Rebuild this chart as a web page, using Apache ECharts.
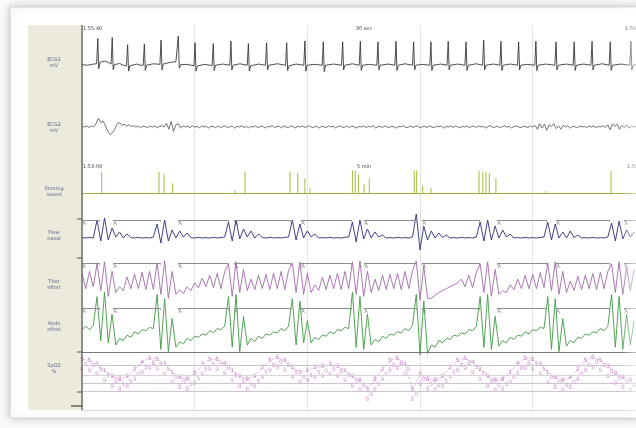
<!DOCTYPE html>
<html><head><meta charset="utf-8">
<script src="https://cdn.jsdelivr.net/npm/echarts@6/dist/echarts.min.js"></script>
<style>html,body{margin:0;padding:0;background:#fafafa;}#c{width:636px;height:428px;}</style>
</head><body><div id="c"></div>
<script>
// ---------- DATA ----------
// Upper panel: 30 sec epoch, time in seconds
const ecg1 = [[0,0.02],[0.3,0.0],[0.6,0.04],[0.78,0.05],[0.84,0.92],[0.89,-0.12],[0.96,0.1],[1.2,0.14],[1.4,0.1],[1.55,0.04],[1.61,0.95],[1.66,-0.15],[1.73,0.02],[2.0,0.06],[2.2,0.0],[2.37,-0.02],[2.43,0.70],[2.48,-0.2],[2.55,-0.02],[2.9,0.04],[3.1,0.0],[3.26,0.0],[3.32,0.73],[3.37,-0.18],[3.44,0.0],[3.8,0.05],[4.15,0.03],[4.21,0.86],[4.26,-0.16],[4.33,0.04],[4.7,0.1],[5.0,0.12],[5.07,0.1],[5.13,1.0],[5.18,-0.1],[5.25,0.02],[5.6,0.03],[5.96,-0.02],[6.02,0.77],[6.07,-0.2],[6.14,-0.03],[6.5,0.03],[6.93,-0.01],[6.99,0.74],[7.04,-0.18],[7.11,0.0],[7.5,0.04],[7.87,0.0],[7.93,0.83],[7.98,-0.16],[8.05,0.0],[8.4,0.05],[8.8,0.0],[8.86,0.74],[8.91,-0.2],[8.98,-0.02],[9.4,0.04],[9.77,0.0],[9.83,0.77],[9.88,-0.16],[9.95,0.0],[10.4,0.05],[10.84,0.0],[10.90,0.77],[10.95,-0.18],[11.02,-0.02],[11.4,0.04],[11.81,0.0],[11.87,0.83],[11.92,-0.2],[11.99,0.0],[12.4,0.03],[12.79,0.0],[12.85,0.80],[12.9,-0.22],[12.97,0.0],[13.4,0.04],[13.82,0.0],[13.88,0.80],[13.93,-0.16],[14.0,0.0],[14.4,0.05],[14.76,0.0],[14.82,0.82],[14.87,-0.18],[14.94,0.0],[15.3,0.03],[15.7,0.0],[15.76,0.80],[15.81,-0.16],[15.88,0.0],[16.3,0.04],[16.66,0.0],[16.72,0.82],[16.77,-0.18],[16.84,0.0],[17.2,0.05],[17.6,0.0],[17.66,0.80],[17.71,-0.16],[17.78,0.0],[18.1,0.03],[18.52,0.0],[18.58,0.80],[18.63,-0.18],[18.7,0.0],[19.1,0.04],[19.44,0.0],[19.50,0.82],[19.55,-0.16],[19.62,0.0],[20.0,0.04],[20.39,0.0],[20.45,0.80],[20.5,-0.18],[20.57,0.0],[21.0,0.05],[21.33,0.0],[21.39,0.86],[21.44,-0.16],[21.51,0.0],[21.9,0.04],[22.25,0.0],[22.31,0.82],[22.36,-0.18],[22.43,0.0],[22.8,0.04],[23.19,0.0],[23.25,0.80],[23.3,-0.16],[23.37,0.0],[23.7,0.03],[24.11,0.0],[24.17,0.82],[24.22,-0.18],[24.29,0.0],[24.7,0.04],[25.18,0.0],[25.24,0.80],[25.29,-0.16],[25.36,0.0],[25.8,0.04],[26.15,0.0],[26.21,0.80],[26.26,-0.18],[26.33,0.0],[26.7,0.04],[27.1,0.0],[27.16,0.82],[27.21,-0.16],[27.28,0.0],[27.7,0.05],[28.07,0.0],[28.13,0.80],[28.18,-0.18],[28.25,0.0],[28.7,0.04],[29.17,0.0],[29.23,0.82],[29.28,-0.16],[29.35,0.0],[29.5,0.02]];
const ecg2Step = 0.125;
const ecg2 = [0.05,0.0,0.1,-0.05,0.08,0.02,0.3,0.8,0.4,0.55,0.1,-0.4,
-0.7,-0.5,-0.2,0.3,0.4,0.15,0.25,0.1,0.2,0.05,0.12,0.0,
0.08,-0.06,0.1,0.02,-0.05,0.08,0.0,0.1,-0.08,0.05,0.12,0.0,
0.35,-0.2,0.5,-0.4,0.2,0.3,-0.1,0.1,0.0,0.08,-0.06,0.1,
-0.02,0.06,-0.08,0.1,0.0,0.05,-0.1,0.08,0.02,-0.04,0.1,-0.06,
0.04,0.1,-0.05,0.02,0.08,-0.1,0.06,0.0,0.1,-0.04,0.05,-0.08,
0.06,0.0,0.1,-0.06,0.04,0.08,-0.1,0.05,0.0,0.12,-0.05,0.03,
0.08,-0.08,0.1,0.0,-0.05,0.1,0.02,-0.08,0.06,0.0,0.1,-0.04,
0.05,0.1,-0.06,0.0,0.08,-0.1,0.06,0.02,-0.05,0.1,0.0,0.06,
-0.08,0.04,0.1,-0.04,0.0,0.08,-0.06,0.1,0.02,-0.1,0.05,0.0,
0.1,-0.05,0.06,0.0,0.12,-0.08,0.02,0.06,-0.06,0.1,0.0,-0.04,
0.08,0.0,-0.1,0.06,0.02,0.1,-0.06,0.0,0.08,-0.04,0.05,0.1,
-0.08,0.02,0.06,-0.05,0.1,0.0,-0.06,0.08,0.02,0.1,-0.1,0.04,
0.0,0.08,-0.04,0.1,0.02,-0.08,0.06,0.0,0.1,-0.06,0.04,0.08,
-0.05,0.1,0.0,0.06,-0.1,0.04,0.12,-0.04,0.0,0.08,-0.06,0.02,
0.1,-0.02,0.06,-0.08,0.04,0.1,0.0,-0.06,0.08,0.02,-0.04,0.1,
0.0,0.15,-0.2,0.3,-0.1,0.25,-0.3,0.2,0.05,0.3,-0.15,0.1,
-0.2,0.15,0.0,0.1,-0.1,0.06,0.02,-0.06,0.08,0.0,0.05,-0.04,
0.08,0.0,0.1,-0.06,0.04,0.02,0.12,-0.05,0.2,-0.25,0.3,0.05,
0.25,-0.2,0.15,-0.05,0.2,-0.1,0.06,0.0,0.05];

// Lower panel: 5 min epoch, time in seconds
const snoreTimes   = [10.5,41.0,43.7,48.3,81.5,86.8,110.8,114.9,118.7,121.4,144.1,145.5,147.3,150.2,153.0,176.9,178.2,181.4,185.8,211.4,213.4,215.1,216.9,220.4,247.1,281.7];
const snoreHeights = [0.85,0.85,0.75,0.4,0.12,0.85,0.85,0.8,0.6,0.2,0.9,0.9,0.75,0.35,0.6,0.9,0.9,0.3,0.2,0.9,0.85,0.85,0.8,0.6,0.1,0.9];

const respStep = 2;
const flow = [0.02,0.0,0.03,0.0,
0.9,-0.15,1.0,-0.1,0.5,0.05,0.3,0.0,0.2,0.02,0.0,0.03,0.0,0.02,0.0,0.05,
0.7,-0.25,0.9,-0.15,0.4,0.0,0.35,0.05,0.25,0.02,0.0,0.03,0.0,0.02,0.0,0.03,0.0,0.02,0.05,
0.8,-0.15,0.9,-0.05,0.45,0.05,0.35,0.0,0.2,0.02,0.0,0.03,0.0,0.02,0.0,0.03,0.05,
0.9,-0.1,0.7,0.0,0.35,0.05,0.2,0.0,0.02,0.0,0.03,0.0,0.02,0.0,0.03,0.05,
0.8,-0.2,0.9,-0.05,0.45,0.0,0.3,0.05,0.15,0.0,0.02,0.0,0.03,0.0,0.02,0.0,0.05,
1.2,-0.6,0.6,-0.1,0.35,0.0,0.25,0.02,0.15,0.0,0.02,0.0,0.03,0.0,0.02,0.0,0.05,
0.8,-0.15,0.9,-0.1,0.6,0.0,0.4,0.05,0.2,0.0,0.02,0.0,0.03,0.0,0.02,0.0,0.03,0.05,
0.8,-0.1,0.7,0.0,0.3,0.0,0.35,0.02,0.15,0.0,0.02,0.0,0.03,0.0,0.02,0.0,0.05,
0.75,-0.15,0.85,-0.05,0.4,0.05,0.3];
const thor = [0.4,-0.4,0.5,-0.3,
0.9,-0.5,1.0,-0.8,0.5,-0.6,-0.3,-0.5,0.2,-0.4,0.35,-0.4,0.45,-0.45,0.5,-0.45,
0.95,-0.7,1.05,-0.9,0.5,-0.7,-0.45,-0.65,-0.3,-0.5,-0.1,-0.35,0.15,-0.3,0.3,-0.35,0.4,-0.4,0.5,
0.9,-0.8,1.0,-0.6,0.6,-0.5,0.1,-0.45,0.3,-0.4,0.35,-0.45,0.4,-0.4,0.5,-0.45,0.55,
0.95,-0.6,1.0,-0.7,0.4,-0.6,-0.2,-0.5,0.2,-0.45,0.3,-0.4,0.4,-0.45,0.5,-0.4,
1.0,-0.7,1.05,-0.8,0.5,-0.6,0.1,-0.5,0.3,-0.45,0.35,-0.4,0.4,-0.45,0.5,-0.4,0.55,
1.05,-1.0,0.8,-0.9,-0.9,-0.75,-0.6,-0.5,-0.4,-0.3,-0.2,-0.1,0.1,-0.3,0.3,-0.35,0.45,
0.9,-0.6,1.0,-0.8,0.6,-0.7,-0.5,-0.6,-0.2,-0.45,0.1,-0.4,0.3,-0.4,0.35,-0.4,0.45,-0.35,
0.95,-0.5,1.0,-0.7,0.5,-0.6,0.0,-0.5,0.25,-0.45,0.3,-0.4,0.4,-0.45,0.45,-0.4,0.5,
0.9,-0.6,1.0,-0.7,0.7,-0.5,0.6];
const abdo = [-0.1,0.05,-0.1,0.1,
1.4,-0.6,1.6,-0.7,0.6,-0.8,-0.5,-0.6,-0.35,-0.45,-0.2,-0.3,-0.1,-0.15,0.0,-0.05,
1.5,-1.0,1.3,-1.1,0.4,-0.9,-0.65,-0.75,-0.5,-0.6,-0.4,-0.45,-0.3,-0.35,-0.15,-0.25,-0.05,-0.1,0.05,
1.4,-0.9,1.5,-1.1,0.5,-0.8,-0.5,-0.65,-0.4,-0.5,-0.3,-0.35,-0.2,-0.25,-0.05,-0.15,0.05,
1.3,-0.8,1.2,-0.7,0.3,-0.7,-0.45,-0.55,-0.35,-0.4,-0.2,-0.3,-0.1,-0.15,0.0,-0.05,
1.6,-0.9,1.4,-1.0,0.6,-0.8,-0.55,-0.65,-0.4,-0.5,-0.3,-0.35,-0.2,-0.25,-0.05,-0.15,0.1,
1.5,-1.25,1.2,-1.2,-0.8,-0.9,-0.6,-0.7,-0.5,-0.55,-0.35,-0.4,-0.25,-0.3,-0.1,-0.15,0.05,
1.4,-0.9,1.5,-1.0,0.5,-0.85,-0.6,-0.7,-0.45,-0.55,-0.35,-0.4,-0.2,-0.3,-0.1,-0.15,0.0,-0.05,
1.4,-1.0,1.3,-1.1,0.4,-0.85,-0.6,-0.7,-0.45,-0.5,-0.3,-0.35,-0.2,-0.25,-0.05,-0.15,0.05,
1.5,-0.9,1.4,-1.0,0.6,-0.8,0.3];
const spo2Step = 4;
const spo2 = [95.5,95.0,93.5,91.5,89.5,88.5,89.5,92.0,94.5,95.8,
95.5,93.5,91.0,89.0,88.5,90.5,93.5,95.5,95.5,94.0,
91.5,89.5,88.5,89.5,92.5,95.0,96.0,95.0,92.5,91.0,
91.5,92.5,93.0,93.5,93.0,91.5,89.5,88.0,85.0,88.5,
92.0,95.0,95.8,93.5,85.0,90.0,88.5,88.0,89.5,92.5,
95.0,95.8,94.5,92.0,89.5,88.0,88.5,91.0,94.0,95.8,
95.5,93.5,91.0,89.0,88.0,89.0,92.0,95.0,96.0,95.0,
93.0,90.5,89.0,88.0];
// apnea event brackets (seconds, lower panel)
const bracketStart = [0,16.5,51.1,80.9,116.6,150.2,181.0,221.0,252.4,288.6];
const bracketEnd   = [9.1,41.5,77.7,110.8,143.2,177.8,211.4,247.1,280.6,295];
// texts
const channelNames = ['ECG1\nmV','ECG2\nmV','Snoring\nsound','Flow\nnasal','Thor\neffort','Abdo\neffort','SpO2\n%'];
const topTimes = ['1:55:40','30 sec','1:56:10'];
const bottomTimes = ['1:53:09','5 min','1:58:09'];

// ---------- CHART ----------
const chart = echarts.init(document.getElementById('c'));
const L = 82, W = 554;
const gridDefs = [[25,385],[36,38],[116,22],[168,28],[214,44],[258,46],[290,66],[352,40]];
const yRanges = [[0,1],[-0.3,1.0],[-1,1],[-0.1,1.0],[-1,1.2],[-1.2,1.2],[-1.3,1.7],[84,98]];
const grids = gridDefs.map(g=>({left:L,top:g[0],width:W,height:g[1],show:false}));
const xAxes = gridDefs.map((g,i)=>{
  if(i===0) return {gridIndex:0,type:'value',min:0,max:29.5,interval:6,position:'top',
    axisLine:{show:true,lineStyle:{color:'#d4d4d4',width:1}},axisTick:{show:false},axisLabel:{show:false},
    splitLine:{show:true,lineStyle:{color:'#e3e3e3',width:1}}};
  return {gridIndex:i,type:'value',min:0,max:i<3?29.5:295,show:false};
});
const yAxes = yRanges.map((r,i)=>({gridIndex:i,type:'value',min:r[0],max:r[1],show:false}));

function line(idx,data,color,w){
  return {type:'line',xAxisIndex:idx,yAxisIndex:idx,data:data,showSymbol:false,symbol:'none',
    lineStyle:{color:color,width:w},silent:true,animation:false};
}
function bracketMarks(level,drop){
  const segs=[];
  bracketStart.forEach((s,i)=>{
    const e=bracketEnd[i];
    segs.push([{coord:[s,level]},{coord:[e,level]}]);
    segs.push([{coord:[s,level]},{coord:[s,level-drop]}]);
    segs.push([{coord:[e,level]},{coord:[e,level-drop]}]);
  });
  return {symbol:['none','none'],silent:true,animation:false,label:{show:false},
    lineStyle:{color:'#8c8c8c',width:1,type:'solid'},data:segs};
}
function aLabels(idx,level){
  return {type:'scatter',xAxisIndex:idx,yAxisIndex:idx,symbolSize:0,silent:true,animation:false,
    data:bracketStart.map(s=>[s+1.2,level]),
    label:{show:true,formatter:'A',position:'bottom',distance:1,fontSize:5,color:'#555',fontFamily:'DejaVu Sans'}};
}
function digitRow(offset,color,fmt){
  return {type:'scatter',xAxisIndex:7,yAxisIndex:7,symbolSize:0,silent:true,animation:false,
    data:respT(spo2,spo2Step),
    label:{show:true,position:'inside',offset:offset,fontSize:6,color:color,fontFamily:'DejaVu Sans',formatter:fmt}};
}

const respT = (arr,step)=>arr.map((v,i)=>[i*step,v]);

const series = [
  line(1,ecg1,'#3a3a3a',0.9),
  line(2,respT(ecg2,ecg2Step),'#505050',0.8),
  {type:'bar',xAxisIndex:3,yAxisIndex:3,barWidth:1,data:snoreTimes.map((t,i)=>[t,snoreHeights[i]]),
    itemStyle:{color:'#a6bb3c'},silent:true,animation:false,
    markLine:{symbol:['none','none'],silent:true,animation:false,label:{show:false},
      lineStyle:{color:'#98b03a',width:1.2,type:'solid'},data:[{yAxis:0}]}},
  Object.assign(line(4,respT(flow,respStep),'#2d2d7c',0.9),{markLine:bracketMarks(0.9,0.08)}),
  Object.assign(line(5,respT(thor,respStep),'#a06aa8',0.9),{markLine:bracketMarks(0.93,0.08)}),
  Object.assign(line(6,respT(abdo,respStep),'#3e9a44',0.9),{markLine:bracketMarks(0.88,0.08)}),
  Object.assign(line(7,respT(spo2,spo2Step),'#d49ad4',0.7),{lineStyle:{color:'#d49ad4',width:0.7,type:'dashed'},
    markLine:{symbol:['none','none'],silent:true,animation:false,label:{show:false},
      data:[{yAxis:97.8,lineStyle:{color:'#777',width:1,type:'solid'}},
            {yAxis:93.4,lineStyle:{color:'#cfc3cf',width:1,type:'solid'}},
            {yAxis:90.0,lineStyle:{color:'#dcd2dc',width:1,type:'solid'}},
            {yAxis:87.2,lineStyle:{color:'#cfc3cf',width:1,type:'solid'}},
            {yAxis:84.3,lineStyle:{color:'#cfc3cf',width:1,type:'solid'}}]}}),
  digitRow([0,0],'#b060b6',p=>String(Math.floor(p.value[1])%10)),
  digitRow([3.7,5],'#c27cc4',p=>String(Math.round(p.value[1]*10)%10)),
  digitRow([0,10],'#c68ac8',p=>String(Math.floor(p.value[1]/10))),
  aLabels(4,0.9), aLabels(5,0.93), aLabels(6,0.88)
];

const labelYs = [63,128,192,236,285,327,369];
const graphic = [
  {type:'rect',shape:{x:10,y:7,width:700,height:411},style:{fill:'#ffffff',stroke:'#d2d2d2',lineWidth:1,shadowBlur:8,shadowColor:'rgba(0,0,0,0.22)'},z:-10},
  {type:'rect',shape:{x:28,y:25,width:54,height:385},style:{fill:'#ece9dd'},z:-5},
  {type:'line',shape:{x1:82,y1:25,x2:82,y2:410},style:{stroke:'#555',lineWidth:1.2},z:50},
  {type:'line',shape:{x1:77,y1:219,x2:82,y2:219},style:{stroke:'#555',lineWidth:1},z:50},
  {type:'line',shape:{x1:77,y1:258,x2:82,y2:258},style:{stroke:'#555',lineWidth:1},z:50},
  {type:'line',shape:{x1:77,y1:352,x2:82,y2:352},style:{stroke:'#555',lineWidth:1},z:50},
  {type:'line',shape:{x1:77,y1:392,x2:82,y2:392},style:{stroke:'#555',lineWidth:1},z:50},
  {type:'line',shape:{x1:71,y1:406,x2:82,y2:406},style:{stroke:'#444',lineWidth:1.2},z:50},
  {type:'text',x:83,y:26,style:{text:topTimes[0],fontSize:5,fill:'#444',fontFamily:'DejaVu Sans'},z:50},
  {type:'text',x:364,y:26,style:{text:topTimes[1],fontSize:5,fill:'#444',align:'center',fontFamily:'DejaVu Sans'},z:50},
  {type:'text',x:625,y:26,style:{text:topTimes[2],fontSize:5,fill:'#444',fontFamily:'DejaVu Sans'},z:50},
  {type:'text',x:83,y:164,style:{text:bottomTimes[0],fontSize:5,fill:'#444',fontFamily:'DejaVu Sans'},z:50},
  {type:'text',x:364,y:164,style:{text:bottomTimes[1],fontSize:5,fill:'#444',align:'center',fontFamily:'DejaVu Sans'},z:50},
  {type:'text',x:627,y:164,style:{text:bottomTimes[2],fontSize:5,fill:'#444',fontFamily:'DejaVu Sans'},z:50},
  {type:'rect',shape:{x:620,y:7,width:16,height:411},
    style:{fill:new echarts.graphic.LinearGradient(0,0,1,0,[{offset:0,color:'rgba(255,255,255,0)'},{offset:1,color:'rgba(255,255,255,0.55)'}])},z:100}
];
channelNames.forEach((n,i)=>{
  graphic.push({type:'text',x:54,y:labelYs[i],style:{text:n,fontSize:5,lineHeight:6,fill:'#5d6488',
    align:'center',verticalAlign:'middle',fontFamily:'DejaVu Sans'},z:50});
});

chart.setOption({animation:false,backgroundColor:'#fafafa',grid:grids,xAxis:xAxes,yAxis:yAxes,series:series,graphic:graphic});
</script></body></html>
